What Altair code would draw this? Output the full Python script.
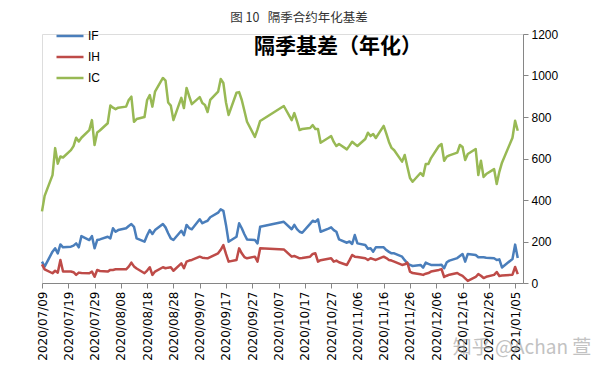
import altair as alt
import pandas as pd

dates = [
    "2020-07-09", "2020-07-10", "2020-07-13", "2020-07-14", "2020-07-15", "2020-07-16", "2020-07-17",
    "2020-07-20", "2020-07-21", "2020-07-22", "2020-07-23", "2020-07-24", "2020-07-27", "2020-07-28",
    "2020-07-29", "2020-07-30", "2020-07-31",
    "2020-08-03", "2020-08-04", "2020-08-05", "2020-08-06", "2020-08-07", "2020-08-10", "2020-08-11",
    "2020-08-12", "2020-08-13", "2020-08-14", "2020-08-17", "2020-08-18", "2020-08-19", "2020-08-20",
    "2020-08-21", "2020-08-24", "2020-08-25", "2020-08-26", "2020-08-27", "2020-08-28", "2020-08-31",
    "2020-09-01", "2020-09-02", "2020-09-03", "2020-09-04", "2020-09-07", "2020-09-08", "2020-09-09",
    "2020-09-10", "2020-09-11", "2020-09-14", "2020-09-15", "2020-09-16", "2020-09-17", "2020-09-18",
    "2020-09-21", "2020-09-22", "2020-09-23", "2020-09-24", "2020-09-25", "2020-09-28", "2020-09-29",
    "2020-09-30",
    "2020-10-09", "2020-10-12", "2020-10-13", "2020-10-14", "2020-10-15", "2020-10-16", "2020-10-19",
    "2020-10-20", "2020-10-21", "2020-10-22", "2020-10-23", "2020-10-26", "2020-10-27", "2020-10-28",
    "2020-10-29", "2020-10-30",
    "2020-11-02", "2020-11-03", "2020-11-04", "2020-11-05", "2020-11-06", "2020-11-09", "2020-11-10",
    "2020-11-11", "2020-11-12", "2020-11-13", "2020-11-16", "2020-11-17", "2020-11-18", "2020-11-19",
    "2020-11-20", "2020-11-23", "2020-11-24", "2020-11-25", "2020-11-26", "2020-11-27", "2020-11-30",
    "2020-12-01", "2020-12-02", "2020-12-03", "2020-12-04", "2020-12-07", "2020-12-08", "2020-12-09",
    "2020-12-10", "2020-12-11", "2020-12-14", "2020-12-15", "2020-12-16", "2020-12-17", "2020-12-18",
    "2020-12-21", "2020-12-22", "2020-12-23", "2020-12-24", "2020-12-25", "2020-12-28", "2020-12-29",
    "2020-12-30", "2020-12-31",
    "2021-01-04", "2021-01-05", "2021-01-06",
]

IF = [
    103, 79, 151, 167, 143, 186, 172, 175, 180, 191, 172, 226, 207, 226, 167, 207, 210,
    223, 215, 264, 247, 255, 264, 275, 284, 271, 215, 199, 230, 255, 236, 255, 284, 268, 240, 215, 207, 252,
    231, 280, 265, 259, 307, 288, 295, 300, 317, 339, 355, 348, 280, 199, 223, 288, 264, 235, 210, 207, 191, 271,
    295, 259, 280, 260, 247, 242, 285, 300, 295, 307, 247, 262, 268, 255, 247, 210,
    194, 200, 188, 231, 191, 183, 165, 167, 151, 172, 172, 159, 150, 143, 143, 127, 110, 95, 87, 82, 87,
    74, 98, 92, 87, 87, 88, 71, 100, 108, 120, 130, 140, 103, 140, 135, 124, 124, 124, 122, 119, 111, 114, 75,
    116, 185, 120,
]

IH = [
    90, 66, 47, 59, 50, 111, 55, 55, 52, 39, 50, 48, 47, 55, 30, 63, 58,
    55, 63, 63, 66, 66, 66, 79, 98, 80, 70, 47, 60, 76, 39, 55, 76, 71, 74, 76, 59, 95,
    71, 103, 108, 111, 127, 122, 120, 119, 125, 143, 160, 183, 140, 103, 111, 167, 143, 125, 119, 127, 103, 167,
    162, 127, 130, 125, 119, 120, 127, 140, 143, 103, 110, 117, 119, 103, 108, 100,
    87, 110, 135, 127, 125, 119, 111, 119, 115, 111, 127, 120, 111, 108, 103, 87, 90, 98, 55, 48, 42,
    39, 45, 48, 55, 63, 67, 29, 35, 40, 48, 40, 34, 22, 10, 29, 43, 35, 24, 30, 39, 53, 34, 36,
    40, 77, 43,
]

IC = [
    345, 420, 520, 650, 575, 610, 605, 640, 660, 700, 682, 700, 737, 785, 665, 725, 735,
    770, 855, 845, 838, 845, 850, 882, 898, 777, 790, 800, 882, 906, 850, 922, 988, 975, 870, 855, 785, 892,
    843, 940, 900, 862, 896, 867, 858, 824, 882, 922, 983, 964, 870, 810, 917, 920, 882, 830, 777, 704, 740, 781,
    853, 785, 819, 780, 737, 742, 747, 761, 742, 742, 676, 700, 708, 680, 660, 670,
    644, 662, 681, 670, 660, 694, 724, 708, 718, 699, 757, 720, 680, 651, 640, 585, 617, 560, 506, 488, 530,
    516, 573, 573, 602, 660, 670, 589, 609, 615, 628, 665, 655, 593, 622, 646, 520, 589, 511, 525, 549, 477, 536, 580,
    700, 782, 734,
]

series_names = ["IF", "IH", "IC"]
series_colors = ["#4A7EBB", "#BE4B48", "#98B954"]

x_tick_labels = [
    "2020/07/09", "2020/07/19", "2020/07/29", "2020/08/08", "2020/08/18", "2020/08/28",
    "2020/09/07", "2020/09/17", "2020/09/27", "2020/10/07", "2020/10/17", "2020/10/27",
    "2020/11/06", "2020/11/16", "2020/11/26", "2020/12/06", "2020/12/16", "2020/12/26",
    "2021/01/05",
]
y_ticks = [0, 200, 400, 600, 800, 1000, 1200]

caption = "图 10\u00a0\u00a0\u00a0隔季合约年化基差"
chart_title = "隔季基差（年化）"
watermark = "知乎 @Achan 萱"

rows = []
for name, vals in zip(series_names, [IF, IH, IC]):
    for d, v in zip(dates, vals):
        rows.append({"date": d, "series": name, "value": v})
df = pd.DataFrame(rows)


def dt(s):
    t = pd.Timestamp(s.replace("/", "-"))
    return alt.DateTime(year=t.year, month=t.month, date=t.day, utc=True)


tick_values = [dt(s) for s in x_tick_labels]

W, H = 481, 249

lines = alt.Chart(df).mark_line(strokeWidth=2.5, strokeJoin="round").encode(
    x=alt.X(
        "date:T",
        scale=alt.Scale(type="utc", domain=[dt("2020-07-09"), dt("2021-01-08")]),
        axis=alt.Axis(
            values=tick_values, labelExpr="utcFormat(datum.value, '%Y/%m/%d')", labelAngle=270,
            tickSize=5, labelPadding=3, domainColor="#868686", tickColor="#868686",
            labelFont="DejaVu Sans", labelFontSize=12, labelColor="black",
            grid=False, title=None, labelOverlap=False, labelFlush=False,
        ),
    ),
    y=alt.Y(
        "value:Q",
        scale=alt.Scale(domain=[0, 1200], nice=False),
        axis=alt.Axis(
            orient="right", values=y_ticks, format="d", tickSize=5, labelPadding=3,
            domainColor="#868686", tickColor="#868686", labelFont="Liberation Sans",
            labelFontSize=12, labelColor="black", grid=False, title=None,
        ),
    ),
    color=alt.Color(
        "series:N",
        scale=alt.Scale(domain=series_names, range=series_colors),
        sort=series_names,
        legend=alt.Legend(
            orient="none", legendX=13, legendY=-13, title=None, symbolType="stroke",
            symbolStrokeWidth=2.5, symbolSize=729, labelFont="Liberation Sans",
            labelFontSize=12, labelColor="black", rowPadding=-5, labelOffset=3,
        ),
    ),
)

cap = alt.Chart(pd.DataFrame({"t": [caption]})).mark_text(
    font="Noto Sans CJK SC", fontSize=12.5, color="#333333", align="center", baseline="middle"
).encode(text="t:N", x=alt.value(257), y=alt.value(-16))

ttl = alt.Chart(pd.DataFrame({"t": [chart_title]})).mark_text(
    font="Noto Sans CJK SC", fontSize=21, fontWeight="bold", color="black", align="center", baseline="middle"
).encode(text="t:N", x=alt.value(296), y=alt.value(13))

wm = alt.Chart(pd.DataFrame({"t": [watermark]})).mark_text(
    font="Noto Sans CJK SC", fontSize=19, color="#9a9a9a", opacity=0.6, align="center", baseline="middle"
).encode(text="t:N", x=alt.value(480), y=alt.value(314))

chart = alt.layer(lines, cap, ttl, wm).properties(
    width=W, height=H, autosize=alt.AutoSizeParams(type="none"),
    padding={"left": 34, "top": 26, "right": 69, "bottom": 78},
).configure_view(stroke=None).configure(background="white")

chart.save("out.html", embed_options={"renderer": "svg", "actions": False})
